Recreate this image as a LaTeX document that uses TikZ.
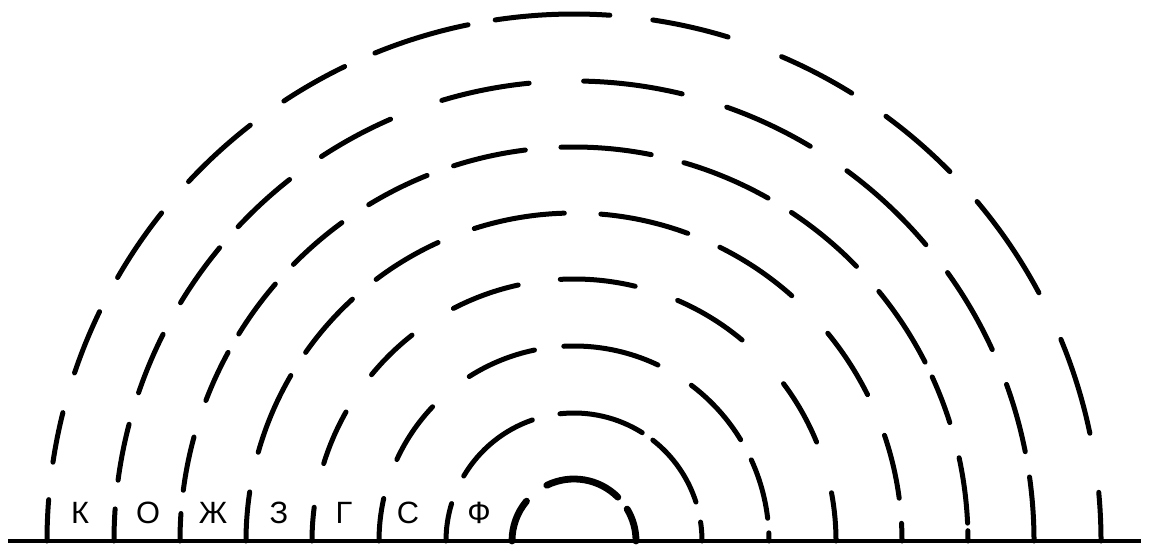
\documentclass[tikz,border=0pt]{standalone}
\usepackage{fontspec}
\setmainfont{Liberation Sans}
\tikzset{
  ring/.style={line width=2.5pt,line cap=round},
  core/.style={line width=3.4pt,line cap=round},
  baseline/.style={line width=2pt},
  lbl/.style={font=\fontsize{15.4}{18}\selectfont,inner sep=0pt,anchor=base}
}
\begin{document}
\begin{tikzpicture}[x=0.5pt,y=0.5pt]
\useasboundingbox (0,0) rectangle (1149,551);
\def\ringarcs#1#2#3{\foreach \a/\b in {#3}{\draw[#2] ([shift={(\a:#1)}]C) arc[start angle=\a,end angle=\b,radius=#1];}}
\coordinate (C) at (574,10);
\coordinate (L) at (8,10);
\coordinate (R) at (1141,10);
\draw[baseline] (L) -- (R);
\ringarcs{527}{ring}{0/5.3, 11.8/22.5, 28.1/40.1, 44.5/53.7, 58.2/66.8, 73/81.4, 86.1/98.6, 101.6/112.2, 115.8/123.4, 127.9/137, 141.5/150, 154.2/161.4, 165.9/171.4, 175.5/180}
\ringarcs{460}{ring}{0/8, 11.2/19.9, 24.6/35.7, 40.1/53.6, 59.1/70.6, 76.4/88.8, 95.6/106.7, 113.5/123.3, 128.2/136.9, 140.4/148.8, 153.3/161.2, 165.3/172.4, 176/180}
\ringarcs{394}{ring}{0/1.5, 2.6/12.2, 17.5/24.6, 27/39.3, 44.2/56.5, 60.5/73.8, 78.7/91.9, 97.1/107.8, 111.9/121.4, 126.1/135.4, 139.3/148.3, 151.4/159.1, 164.7/172.6, 176/180}
\ringarcs{328}{ring}{0/3.1, 7.5/18.8, 26.5/39.3, 48.4/63.6, 69.7/85.3, 91.7/107.7, 114.5/127.1, 132.5/144.9, 149.7/164.3, 171.4/180}
\ringarcs{262}{ring}{0/10.6, 22.2/36.9, 50.1/66.7, 76.5/93, 102.3/117.4, 128.2/140.6, 150.5/162.8, 172.6/180}
\ringarcs{195}{ring}{0/2.4, 6.7/24.6, 31.3/53, 64.5/93, 101.7/122.5, 136.5/155.3, 167.4/180}
\ringarcs{128}{ring}{0/8.5, 17.7/52, 57.8/96.3, 109/149.5, 163/180}
\ringarcs{62}{core}{0/31, 45/116, 140/180}
\node[lbl] (k) at (80,28) {К};
\node[lbl] (o) at (148,28) {О};
\node[lbl] (zh) at (213,28) {Ж};
\node[lbl] (z) at (279,28) {З};
\node[lbl] (g) at (344,28) {Г};
\node[lbl] (s) at (408,28) {С};
\node[lbl] (f) at (479,28) {Ф};
\end{tikzpicture}
\end{document}
